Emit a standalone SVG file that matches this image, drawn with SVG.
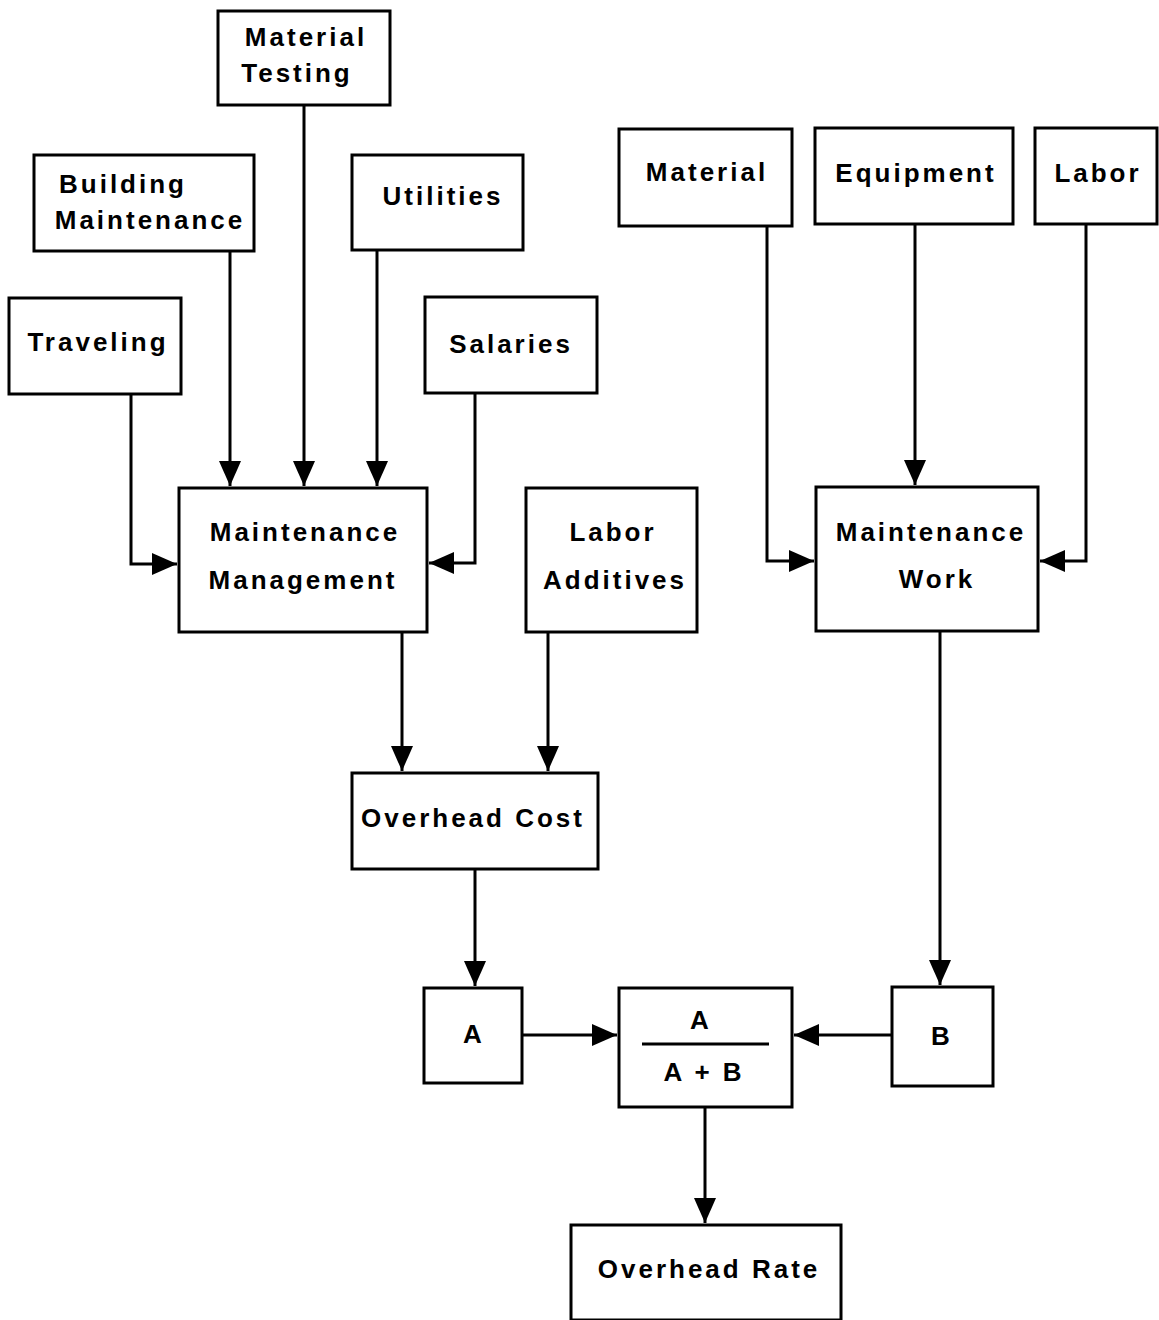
<svg xmlns="http://www.w3.org/2000/svg" width="1159" height="1320" viewBox="0 0 1159 1320">
<style>
.box{fill:#fff;stroke:#000;stroke-width:3}
.t{font-family:"Liberation Sans",Arial,sans-serif;font-weight:bold;font-size:26px;letter-spacing:3px;text-anchor:middle;fill:#000}
.c{fill:none;stroke:#000;stroke-width:3}
</style>
<defs>
<marker id="ah" markerUnits="userSpaceOnUse" markerWidth="26" markerHeight="24" refX="25" refY="11" orient="auto">
<path d="M0,0 L25,11 L0,22 z" fill="#000"/>
</marker>
</defs>
<rect width="1159" height="1320" fill="#fff"/>
<g id="connectors">
<polyline class="c" points="131,394 131,564 177,564" marker-end="url(#ah)"/>
<line class="c" x1="230" y1="251" x2="230" y2="486" marker-end="url(#ah)"/>
<line class="c" x1="304" y1="105" x2="304" y2="486" marker-end="url(#ah)"/>
<line class="c" x1="377" y1="250" x2="377" y2="486" marker-end="url(#ah)"/>
<polyline class="c" points="475,393 475,563 429,563" marker-end="url(#ah)"/>
<line class="c" x1="402" y1="632" x2="402" y2="771" marker-end="url(#ah)"/>
<line class="c" x1="548" y1="632" x2="548" y2="771" marker-end="url(#ah)"/>
<line class="c" x1="475" y1="869" x2="475" y2="986" marker-end="url(#ah)"/>
<line class="c" x1="522" y1="1035" x2="617" y2="1035" marker-end="url(#ah)"/>
<line class="c" x1="892" y1="1035" x2="794" y2="1035" marker-end="url(#ah)"/>
<line class="c" x1="705" y1="1107" x2="705" y2="1223" marker-end="url(#ah)"/>
<polyline class="c" points="767,226 767,561 814,561" marker-end="url(#ah)"/>
<line class="c" x1="915" y1="224" x2="915" y2="485" marker-end="url(#ah)"/>
<polyline class="c" points="1086,224 1086,561 1040,561" marker-end="url(#ah)"/>
<line class="c" x1="940" y1="631" x2="940" y2="985" marker-end="url(#ah)"/>
</g>
<g id="material-testing"><rect class="box" x="218" y="11" width="172" height="94"/><text class="t" x="306" y="46">Material</text><text class="t" x="297" y="82">Testing</text></g>
<g id="building-maintenance"><rect class="box" x="34" y="155" width="220" height="96"/><text class="t" x="123" y="193">Building</text><text class="t" x="150" y="229">Maintenance</text></g>
<g id="utilities"><rect class="box" x="352" y="155" width="171" height="95"/><text class="t" x="443" y="205">Utilities</text></g>
<g id="traveling"><rect class="box" x="9" y="298" width="172" height="96"/><text class="t" x="98" y="351">Traveling</text></g>
<g id="salaries"><rect class="box" x="425" y="297" width="172" height="96"/><text class="t" x="511" y="353">Salaries</text></g>
<g id="material"><rect class="box" x="619" y="129" width="173" height="97"/><text class="t" x="707" y="181">Material</text></g>
<g id="equipment"><rect class="box" x="815" y="128" width="198" height="96"/><text class="t" x="916" y="182">Equipment</text></g>
<g id="labor"><rect class="box" x="1035" y="128" width="122" height="96"/><text class="t" x="1098" y="182">Labor</text></g>
<g id="maintenance-management"><rect class="box" x="179" y="488" width="248" height="144"/><text class="t" x="305" y="541">Maintenance</text><text class="t" x="303" y="589">Management</text></g>
<g id="labor-additives"><rect class="box" x="526" y="488" width="171" height="144"/><text class="t" x="613" y="541">Labor</text><text class="t" x="615" y="589">Additives</text></g>
<g id="maintenance-work"><rect class="box" x="816" y="487" width="222" height="144"/><text class="t" x="931" y="541">Maintenance</text><text class="t" x="937" y="588">Work</text></g>
<g id="overhead-cost"><rect class="box" x="352" y="773" width="246" height="96"/><text class="t" x="473" y="827">Overhead  Cost</text></g>
<g id="a"><rect class="box" x="424" y="988" width="98" height="95"/><text class="t" x="474" y="1043">A</text></g>
<g id="ratio"><rect class="box" x="619" y="988" width="173" height="119"/><text class="t" x="701" y="1029">A</text><line x1="642" y1="1044" x2="769" y2="1044" stroke="#000" stroke-width="3"/><text class="t" x="704" y="1081">A + B</text></g>
<g id="b"><rect class="box" x="892" y="987" width="101" height="99"/><text class="t" x="942" y="1045">B</text></g>
<g id="overhead-rate"><rect class="box" x="571" y="1225" width="270" height="95"/><text class="t" x="709" y="1278">Overhead  Rate</text></g>
</svg>
